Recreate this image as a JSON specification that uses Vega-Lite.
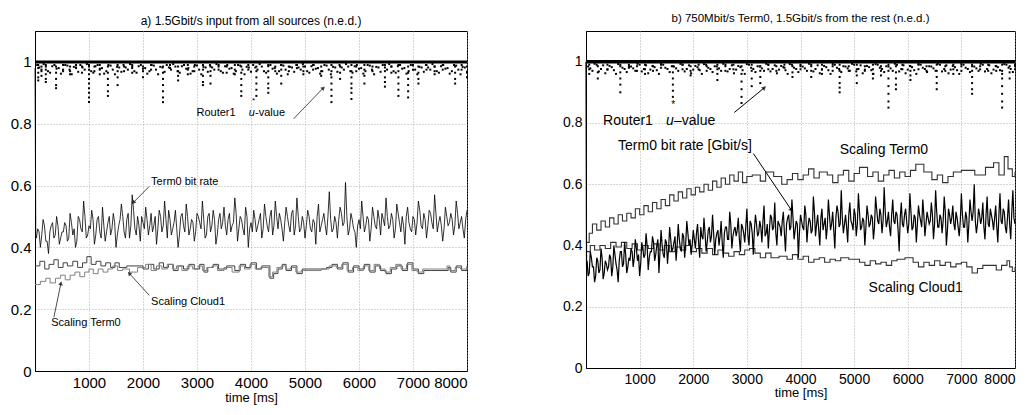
{
"$schema":"https://vega.github.io/schema/vega-lite/v6.json",
"padding":{"left":4,"top":12,"right":5,"bottom":5},
"bounds":"flush",
"spacing":119,
"config":{
 "font":"Liberation Sans",
 "view":{"stroke":"black","strokeWidth":1},
 "axis":{"labelFont":"Liberation Sans","labelColor":"black","labelFontSize":15,"titleFont":"Liberation Sans","titleFontWeight":"normal","titleColor":"black","titleFontSize":13,"domainColor":"black","ticks":false,"grid":true,"gridColor":"#999","gridDash":[1,2],"gridWidth":0.8,"labelPadding":4},
 "title":{"font":"Liberation Sans","fontWeight":"normal","color":"black"}
},
"datasets":{
"aT0":[{"t":0,"v":0.98},{"t":15,"v":0.44},{"t":50,"v":0.46},{"t":100,"v":0.40},{"t":150,"v":0.49},{"t":200,"v":0.42},{"t":250,"v":0.38},{"t":300,"v":0.47},{"t":350,"v":0.43},{"t":400,"v":0.50},{"t":450,"v":0.41},{"t":500,"v":0.45},
{"t":550,"v":0.48},{"t":600,"v":0.42},{"t":650,"v":0.51},{"t":700,"v":0.44},{"t":750,"v":0.40},{"t":800,"v":0.50},{"t":850,"v":0.46},{"t":900,"v":0.55},{"t":950,"v":0.43},{"t":1000,"v":0.47},
{"t":1050,"v":0.52},{"t":1100,"v":0.41},{"t":1150,"v":0.49},{"t":1200,"v":0.45},{"t":1250,"v":0.53},{"t":1300,"v":0.42},{"t":1350,"v":0.48},{"t":1400,"v":0.44},{"t":1450,"v":0.51},{"t":1500,"v":0.40},
{"t":1550,"v":0.47},{"t":1600,"v":0.54},{"t":1650,"v":0.45},{"t":1700,"v":0.49},{"t":1750,"v":0.43},{"t":1800,"v":0.57},{"t":1850,"v":0.46},{"t":1900,"v":0.50},{"t":1950,"v":0.42},{"t":2000,"v":0.48},
{"t":2050,"v":0.53},{"t":2100,"v":0.44},{"t":2150,"v":0.51},{"t":2200,"v":0.47},{"t":2250,"v":0.41},{"t":2300,"v":0.52},{"t":2350,"v":0.45},{"t":2400,"v":0.55},{"t":2450,"v":0.43},{"t":2500,"v":0.49},
{"t":2550,"v":0.46},{"t":2600,"v":0.52},{"t":2650,"v":0.40},{"t":2700,"v":0.50},{"t":2750,"v":0.47},{"t":2800,"v":0.54},{"t":2850,"v":0.44},{"t":2900,"v":0.49},{"t":2950,"v":0.42},{"t":3000,"v":0.51},
{"t":3050,"v":0.48},{"t":3100,"v":0.55},{"t":3150,"v":0.43},{"t":3200,"v":0.50},{"t":3250,"v":0.45},{"t":3300,"v":0.52},{"t":3350,"v":0.41},{"t":3400,"v":0.49},{"t":3450,"v":0.46},{"t":3500,"v":0.53},
{"t":3550,"v":0.44},{"t":3600,"v":0.51},{"t":3650,"v":0.47},{"t":3700,"v":0.56},{"t":3750,"v":0.42},{"t":3800,"v":0.50},{"t":3850,"v":0.46},{"t":3900,"v":0.53},{"t":3950,"v":0.40},{"t":4000,"v":0.48},
{"t":4050,"v":0.52},{"t":4100,"v":0.45},{"t":4150,"v":0.49},{"t":4200,"v":0.43},{"t":4250,"v":0.54},{"t":4300,"v":0.47},{"t":4350,"v":0.50},{"t":4400,"v":0.44},{"t":4450,"v":0.55},{"t":4500,"v":0.46},
{"t":4550,"v":0.49},{"t":4600,"v":0.42},{"t":4650,"v":0.53},{"t":4700,"v":0.47},{"t":4750,"v":0.51},{"t":4800,"v":0.44},{"t":4850,"v":0.56},{"t":4900,"v":0.45},{"t":4950,"v":0.50},{"t":5000,"v":0.43},
{"t":5050,"v":0.52},{"t":5100,"v":0.46},{"t":5150,"v":0.49},{"t":5200,"v":0.41},{"t":5250,"v":0.54},{"t":5300,"v":0.47},{"t":5350,"v":0.51},{"t":5400,"v":0.44},{"t":5450,"v":0.58},{"t":5500,"v":0.45},
{"t":5550,"v":0.50},{"t":5600,"v":0.43},{"t":5650,"v":0.53},{"t":5700,"v":0.47},{"t":5750,"v":0.61},{"t":5800,"v":0.44},{"t":5850,"v":0.51},{"t":5900,"v":0.46},{"t":5950,"v":0.40},{"t":6000,"v":0.49},
{"t":6050,"v":0.55},{"t":6100,"v":0.45},{"t":6150,"v":0.50},{"t":6200,"v":0.42},{"t":6250,"v":0.53},{"t":6300,"v":0.47},{"t":6350,"v":0.52},{"t":6400,"v":0.44},{"t":6450,"v":0.49},{"t":6500,"v":0.56},
{"t":6550,"v":0.46},{"t":6600,"v":0.51},{"t":6650,"v":0.43},{"t":6700,"v":0.54},{"t":6750,"v":0.48},{"t":6800,"v":0.50},{"t":6850,"v":0.41},{"t":6900,"v":0.53},{"t":6950,"v":0.46},{"t":7000,"v":0.50},
{"t":7050,"v":0.44},{"t":7100,"v":0.55},{"t":7150,"v":0.47},{"t":7200,"v":0.51},{"t":7250,"v":0.43},{"t":7300,"v":0.52},{"t":7350,"v":0.48},{"t":7400,"v":0.57},{"t":7450,"v":0.45},{"t":7500,"v":0.50},
{"t":7550,"v":0.42},{"t":7600,"v":0.53},{"t":7650,"v":0.47},{"t":7700,"v":0.51},{"t":7750,"v":0.44},{"t":7800,"v":0.55},{"t":7850,"v":0.46},{"t":7900,"v":0.50},{"t":7950,"v":0.43},{"t":8000,"v":0.52},
{"t":25,"v":0.43},{"t":75,"v":0.45},{"t":125,"v":0.44},{"t":175,"v":0.47},{"t":225,"v":0.42},{"t":275,"v":0.45},{"t":325,"v":0.48},{"t":375,"v":0.44},{"t":425,"v":0.47},{"t":475,"v":0.43},
{"t":525,"v":0.45},{"t":575,"v":0.47},{"t":625,"v":0.43},{"t":675,"v":0.48},{"t":725,"v":0.46},{"t":775,"v":0.42},{"t":825,"v":0.49},{"t":875,"v":0.45},{"t":925,"v":0.50},{"t":975,"v":0.44},
{"t":1025,"v":0.46},{"t":1075,"v":0.49},{"t":1125,"v":0.44},{"t":1175,"v":0.50},{"t":1225,"v":0.43},{"t":1275,"v":0.47},{"t":1325,"v":0.45},{"t":1375,"v":0.50},{"t":1425,"v":0.46},{"t":1475,"v":0.48},
{"t":1525,"v":0.44},{"t":1575,"v":0.49},{"t":1625,"v":0.50},{"t":1675,"v":0.43},{"t":1725,"v":0.51},{"t":1775,"v":0.47},{"t":1825,"v":0.52},{"t":1875,"v":0.44},{"t":1925,"v":0.47},{"t":1975,"v":0.50},
{"t":2025,"v":0.46},{"t":2075,"v":0.49},{"t":2125,"v":0.47},{"t":2175,"v":0.45},{"t":2225,"v":0.50},{"t":2275,"v":0.46},{"t":2325,"v":0.50},{"t":2375,"v":0.47},{"t":2425,"v":0.49},{"t":2475,"v":0.52},
{"t":2525,"v":0.44},{"t":2575,"v":0.48},{"t":2625,"v":0.46},{"t":2675,"v":0.44},{"t":2725,"v":0.51},{"t":2775,"v":0.45},{"t":2825,"v":0.50},{"t":2875,"v":0.46},{"t":2925,"v":0.48},{"t":2975,"v":0.45},
{"t":3025,"v":0.50},{"t":3075,"v":0.46},{"t":3125,"v":0.49},{"t":3175,"v":0.44},{"t":3225,"v":0.51},{"t":3275,"v":0.47},{"t":3325,"v":0.49},{"t":3375,"v":0.44},{"t":3425,"v":0.51},{"t":3475,"v":0.48},
{"t":3525,"v":0.47},{"t":3575,"v":0.49},{"t":3625,"v":0.45},{"t":3675,"v":0.48},{"t":3725,"v":0.51},{"t":3775,"v":0.46},{"t":3825,"v":0.49},{"t":3875,"v":0.44},{"t":3925,"v":0.50},{"t":3975,"v":0.46},
{"t":4025,"v":0.45},{"t":4075,"v":0.49},{"t":4125,"v":0.47},{"t":4175,"v":0.51},{"t":4225,"v":0.46},{"t":4275,"v":0.50},{"t":4325,"v":0.45},{"t":4375,"v":0.52},{"t":4425,"v":0.47},{"t":4475,"v":0.50},
{"t":4525,"v":0.51},{"t":4575,"v":0.46},{"t":4625,"v":0.48},{"t":4675,"v":0.50},{"t":4725,"v":0.45},{"t":4775,"v":0.52},{"t":4825,"v":0.47},{"t":4875,"v":0.50},{"t":4925,"v":0.46},{"t":4975,"v":0.48},
{"t":5025,"v":0.47},{"t":5075,"v":0.50},{"t":5125,"v":0.45},{"t":5175,"v":0.48},{"t":5225,"v":0.50},{"t":5275,"v":0.45},{"t":5325,"v":0.49},{"t":5375,"v":0.47},{"t":5425,"v":0.50},{"t":5475,"v":0.49},
{"t":5525,"v":0.46},{"t":5575,"v":0.48},{"t":5625,"v":0.49},{"t":5675,"v":0.51},{"t":5725,"v":0.48},{"t":5775,"v":0.50},{"t":5825,"v":0.46},{"t":5875,"v":0.49},{"t":5925,"v":0.45},{"t":5975,"v":0.47},
{"t":6025,"v":0.46},{"t":6075,"v":0.50},{"t":6125,"v":0.47},{"t":6175,"v":0.49},{"t":6225,"v":0.46},{"t":6275,"v":0.50},{"t":6325,"v":0.46},{"t":6375,"v":0.49},{"t":6425,"v":0.51},{"t":6475,"v":0.47},
{"t":6525,"v":0.50},{"t":6575,"v":0.47},{"t":6625,"v":0.49},{"t":6675,"v":0.46},{"t":6725,"v":0.51},{"t":6775,"v":0.45},{"t":6825,"v":0.47},{"t":6875,"v":0.50},{"t":6925,"v":0.48},{"t":6975,"v":0.45},
{"t":7025,"v":0.49},{"t":7075,"v":0.48},{"t":7125,"v":0.52},{"t":7175,"v":0.46},{"t":7225,"v":0.49},{"t":7275,"v":0.47},{"t":7325,"v":0.51},{"t":7375,"v":0.46},{"t":7425,"v":0.51},{"t":7475,"v":0.48},
{"t":7525,"v":0.47},{"t":7575,"v":0.46},{"t":7625,"v":0.50},{"t":7675,"v":0.48},{"t":7725,"v":0.49},{"t":7775,"v":0.47},{"t":7825,"v":0.51},{"t":7875,"v":0.48},{"t":7925,"v":0.46},{"t":7975,"v":0.49}],
"aSC":[{"t":0,"v":0.34},{"t":90,"v":0.355},{"t":180,"v":0.33},{"t":260,"v":0.345},{"t":350,"v":0.36},{"t":430,"v":0.335},{"t":520,"v":0.35},{"t":600,"v":0.34},{"t":700,"v":0.355},{"t":790,"v":0.335},{"t":880,"v":0.35},{"t":960,"v":0.37},{"t":1040,"v":0.345},{"t":1130,"v":0.355},{"t":1220,"v":0.34},{"t":1310,"v":0.35},{"t":1400,"v":0.335},{"t":1480,"v":0.35},{"t":1560,"v":0.335},{"t":1700,"v":0.34},{"t":2000,"v":0.33},{"t":2100,"v":0.345},{"t":2200,"v":0.33},{"t":2300,"v":0.35},{"t":2380,"v":0.335},{"t":2470,"v":0.345},{"t":2560,"v":0.325},{"t":2650,"v":0.34},{"t":2750,"v":0.33},{"t":2850,"v":0.345},{"t":2950,"v":0.33},{"t":3050,"v":0.345},{"t":3130,"v":0.32},{"t":3200,"v":0.335},{"t":3300,"v":0.345},{"t":3400,"v":0.33},{"t":3550,"v":0.34},{"t":3700,"v":0.325},{"t":3800,"v":0.345},{"t":3900,"v":0.335},{"t":4000,"v":0.35},{"t":4100,"v":0.33},{"t":4200,"v":0.34},{"t":4350,"v":0.30},{"t":4420,"v":0.315},{"t":4500,"v":0.33},{"t":4580,"v":0.345},{"t":4650,"v":0.325},{"t":4750,"v":0.34},{"t":4850,"v":0.315},{"t":4950,"v":0.33},{"t":5400,"v":0.335},{"t":5500,"v":0.345},{"t":5600,"v":0.33},{"t":5700,"v":0.35},{"t":5800,"v":0.32},{"t":5900,"v":0.34},{"t":6000,"v":0.33},{"t":6100,"v":0.345},{"t":6200,"v":0.32},{"t":6300,"v":0.34},{"t":6400,"v":0.325},{"t":6500,"v":0.315},{"t":6600,"v":0.33},{"t":6700,"v":0.34},{"t":6800,"v":0.325},{"t":6900,"v":0.35},{"t":7000,"v":0.33},{"t":7100,"v":0.315},{"t":7200,"v":0.325},{"t":7350,"v":0.325},{"t":7650,"v":0.335},{"t":7700,"v":0.32},{"t":7800,"v":0.34},{"t":7900,"v":0.325},{"t":8000,"v":0.34}],
"aST":[{"t":0,"v":0.28},{"t":100,"v":0.29},{"t":200,"v":0.30},{"t":280,"v":0.285},{"t":380,"v":0.30},{"t":470,"v":0.31},{"t":560,"v":0.295},{"t":650,"v":0.31},{"t":740,"v":0.32},{"t":830,"v":0.305},{"t":920,"v":0.32},{"t":1000,"v":0.33},{"t":1080,"v":0.315},{"t":1170,"v":0.33},{"t":1260,"v":0.32},{"t":1350,"v":0.33},{"t":1440,"v":0.34},{"t":1530,"v":0.325},{"t":1620,"v":0.33},{"t":1750,"v":0.32},{"t":1900,"v":0.335},{"t":2050,"v":0.345},{"t":2150,"v":0.325},{"t":2250,"v":0.34},{"t":2350,"v":0.33},{"t":2450,"v":0.345},{"t":2550,"v":0.33},{"t":2620,"v":0.34},{"t":2720,"v":0.325},{"t":2820,"v":0.34},{"t":2920,"v":0.33},{"t":3020,"v":0.34},{"t":3100,"v":0.325},{"t":3180,"v":0.335},{"t":3280,"v":0.34},{"t":3380,"v":0.325},{"t":3500,"v":0.335},{"t":3650,"v":0.32},{"t":3780,"v":0.34},{"t":3880,"v":0.33},{"t":3980,"v":0.345},{"t":4080,"v":0.33},{"t":4180,"v":0.335},{"t":4330,"v":0.305},{"t":4400,"v":0.32},{"t":4480,"v":0.335},{"t":4560,"v":0.34},{"t":4640,"v":0.33},{"t":4730,"v":0.335},{"t":4830,"v":0.32},{"t":4930,"v":0.325},{"t":5300,"v":0.33},{"t":5450,"v":0.34},{"t":5580,"v":0.335},{"t":5680,"v":0.345},{"t":5780,"v":0.325},{"t":5880,"v":0.335},{"t":5980,"v":0.325},{"t":6080,"v":0.34},{"t":6180,"v":0.325},{"t":6280,"v":0.345},{"t":6380,"v":0.33},{"t":6480,"v":0.32},{"t":6580,"v":0.335},{"t":6680,"v":0.345},{"t":6780,"v":0.33},{"t":6880,"v":0.345},{"t":6980,"v":0.325},{"t":7080,"v":0.32},{"t":7180,"v":0.33},{"t":7330,"v":0.33},{"t":7630,"v":0.34},{"t":7680,"v":0.325},{"t":7780,"v":0.335},{"t":7880,"v":0.33},{"t":8000,"v":0.335}],
"band":[{"t":0,"v":1},{"t":8000,"v":1}],
"aU":[{"t":60,"v":0.99},{"t":60,"v":0.98},{"t":60,"v":0.965},{"t":60,"v":0.95},{"t":60,"v":0.94},{"t":120,"v":0.985},{"t":120,"v":0.97},{"t":120,"v":0.955},{"t":200,"v":0.99},{"t":200,"v":0.975},{"t":200,"v":0.96},{"t":200,"v":0.945},{"t":200,"v":0.935},{"t":390,"v":0.985},{"t":390,"v":0.965},{"t":390,"v":0.945},{"t":390,"v":0.925},{"t":390,"v":0.915},{"t":520,"v":0.99},{"t":520,"v":0.975},{"t":650,"v":0.985},{"t":650,"v":0.97},{"t":650,"v":0.96},{"t":760,"v":0.99},{"t":760,"v":0.98},{"t":870,"v":0.985},{"t":870,"v":0.965},{"t":1000,"v":0.99},{"t":1000,"v":0.975},{"t":1000,"v":0.96},{"t":1000,"v":0.945},{"t":1000,"v":0.93},{"t":1000,"v":0.915},{"t":1000,"v":0.9},{"t":1000,"v":0.885},{"t":1000,"v":0.87},{"t":1100,"v":0.985},{"t":1100,"v":0.97},{"t":1200,"v":0.99},{"t":1200,"v":0.975},{"t":1200,"v":0.96},{"t":1350,"v":0.985},{"t":1350,"v":0.965},{"t":1350,"v":0.945},{"t":1350,"v":0.925},{"t":1350,"v":0.905},{"t":1350,"v":0.89},{"t":1530,"v":0.99},{"t":1530,"v":0.97},{"t":1530,"v":0.95},{"t":1530,"v":0.925},{"t":1650,"v":0.985},{"t":1650,"v":0.97},{"t":1800,"v":0.99},{"t":1800,"v":0.98},{"t":1800,"v":0.965},{"t":2000,"v":0.985},{"t":2000,"v":0.97},{"t":2000,"v":0.95},{"t":2150,"v":0.99},{"t":2150,"v":0.975},{"t":2370,"v":0.985},{"t":2370,"v":0.965},{"t":2370,"v":0.945},{"t":2370,"v":0.925},{"t":2370,"v":0.905},{"t":2370,"v":0.885},{"t":2370,"v":0.87},{"t":2500,"v":0.99},{"t":2500,"v":0.98},{"t":2650,"v":0.985},{"t":2650,"v":0.97},{"t":2650,"v":0.955},{"t":2650,"v":0.94},{"t":2830,"v":0.99},{"t":2830,"v":0.975},{"t":2830,"v":0.96},{"t":2950,"v":0.985},{"t":2950,"v":0.97},{"t":3110,"v":0.99},{"t":3110,"v":0.975},{"t":3110,"v":0.955},{"t":3110,"v":0.935},{"t":3110,"v":0.925},{"t":3250,"v":0.985},{"t":3250,"v":0.97},{"t":3250,"v":0.955},{"t":3250,"v":0.93},{"t":3400,"v":0.99},{"t":3400,"v":0.975},{"t":3550,"v":0.985},{"t":3550,"v":0.965},{"t":3700,"v":0.99},{"t":3700,"v":0.975},{"t":3700,"v":0.96},{"t":3820,"v":0.985},{"t":3820,"v":0.965},{"t":3820,"v":0.945},{"t":3820,"v":0.925},{"t":3820,"v":0.905},{"t":3820,"v":0.89},{"t":3950,"v":0.99},{"t":3950,"v":0.975},{"t":4100,"v":0.985},{"t":4100,"v":0.97},{"t":4100,"v":0.95},{"t":4100,"v":0.93},{"t":4100,"v":0.91},{"t":4100,"v":0.89},{"t":4320,"v":0.99},{"t":4320,"v":0.97},{"t":4320,"v":0.95},{"t":4320,"v":0.93},{"t":4320,"v":0.915},{"t":4320,"v":0.9},{"t":4450,"v":0.985},{"t":4450,"v":0.97},{"t":4560,"v":0.99},{"t":4560,"v":0.975},{"t":4560,"v":0.955},{"t":4560,"v":0.93},{"t":4700,"v":0.985},{"t":4700,"v":0.97},{"t":4850,"v":0.99},{"t":4850,"v":0.98},{"t":4970,"v":0.985},{"t":4970,"v":0.97},{"t":4970,"v":0.96},{"t":5150,"v":0.99},{"t":5150,"v":0.975},{"t":5300,"v":0.985},{"t":5300,"v":0.97},{"t":5300,"v":0.955},{"t":5490,"v":0.99},{"t":5490,"v":0.97},{"t":5490,"v":0.95},{"t":5490,"v":0.93},{"t":5490,"v":0.91},{"t":5490,"v":0.89},{"t":5490,"v":0.87},{"t":5650,"v":0.985},{"t":5650,"v":0.965},{"t":5650,"v":0.945},{"t":5860,"v":0.99},{"t":5860,"v":0.97},{"t":5860,"v":0.95},{"t":5860,"v":0.93},{"t":5860,"v":0.915},{"t":5860,"v":0.9},{"t":5860,"v":0.88},{"t":5950,"v":0.985},{"t":5950,"v":0.97},{"t":6100,"v":0.99},{"t":6100,"v":0.975},{"t":6100,"v":0.955},{"t":6100,"v":0.93},{"t":6250,"v":0.985},{"t":6250,"v":0.97},{"t":6480,"v":0.99},{"t":6480,"v":0.97},{"t":6480,"v":0.95},{"t":6480,"v":0.935},{"t":6480,"v":0.92},{"t":6600,"v":0.985},{"t":6600,"v":0.965},{"t":6730,"v":0.99},{"t":6730,"v":0.97},{"t":6730,"v":0.95},{"t":6730,"v":0.93},{"t":6730,"v":0.91},{"t":6730,"v":0.89},{"t":6910,"v":0.985},{"t":6910,"v":0.965},{"t":6910,"v":0.945},{"t":6910,"v":0.925},{"t":6910,"v":0.905},{"t":6910,"v":0.885},{"t":7000,"v":0.99},{"t":7000,"v":0.975},{"t":7100,"v":0.985},{"t":7100,"v":0.965},{"t":7100,"v":0.945},{"t":7100,"v":0.93},{"t":7250,"v":0.99},{"t":7250,"v":0.975},{"t":7400,"v":0.985},{"t":7400,"v":0.97},{"t":7400,"v":0.96},{"t":7550,"v":0.99},{"t":7550,"v":0.975},{"t":7780,"v":0.985},{"t":7780,"v":0.965},{"t":7780,"v":0.945},{"t":7780,"v":0.93},{"t":7900,"v":0.99},{"t":7900,"v":0.975},{"t":8000,"v":0.985},{"t":8000,"v":0.965},{"t":8000,"v":0.95},
{"t":40,"v":0.99},{"t":120,"v":0.975},{"t":200,"v":0.985},{"t":280,"v":0.965},{"t":360,"v":0.99},{"t":440,"v":0.98},{"t":520,"v":0.97},{"t":600,"v":0.988},{"t":680,"v":0.96},{"t":760,"v":0.982},
{"t":840,"v":0.99},{"t":920,"v":0.975},{"t":1000,"v":0.985},{"t":1080,"v":0.965},{"t":1160,"v":0.99},{"t":1240,"v":0.98},{"t":1320,"v":0.97},{"t":1400,"v":0.988},{"t":1480,"v":0.96},{"t":1560,"v":0.982},
{"t":1640,"v":0.99},{"t":1720,"v":0.975},{"t":1800,"v":0.985},{"t":1880,"v":0.965},{"t":1960,"v":0.99},{"t":2040,"v":0.98},{"t":2120,"v":0.97},{"t":2200,"v":0.988},{"t":2280,"v":0.96},{"t":2360,"v":0.982},
{"t":2440,"v":0.99},{"t":2520,"v":0.975},{"t":2600,"v":0.985},{"t":2680,"v":0.965},{"t":2760,"v":0.99},{"t":2840,"v":0.98},{"t":2920,"v":0.97},{"t":3000,"v":0.988},{"t":3080,"v":0.96},{"t":3160,"v":0.982},
{"t":3240,"v":0.99},{"t":3320,"v":0.975},{"t":3400,"v":0.985},{"t":3480,"v":0.965},{"t":3560,"v":0.99},{"t":3640,"v":0.98},{"t":3720,"v":0.97},{"t":3800,"v":0.988},{"t":3880,"v":0.96},{"t":3960,"v":0.982},
{"t":4040,"v":0.99},{"t":4120,"v":0.975},{"t":4200,"v":0.985},{"t":4280,"v":0.965},{"t":4360,"v":0.99},{"t":4440,"v":0.98},{"t":4520,"v":0.97},{"t":4600,"v":0.988},{"t":4680,"v":0.96},{"t":4760,"v":0.982},
{"t":4840,"v":0.99},{"t":4920,"v":0.975},{"t":5000,"v":0.985},{"t":5080,"v":0.965},{"t":5160,"v":0.99},{"t":5240,"v":0.98},{"t":5320,"v":0.97},{"t":5400,"v":0.988},{"t":5480,"v":0.96},{"t":5560,"v":0.982},
{"t":5640,"v":0.99},{"t":5720,"v":0.975},{"t":5800,"v":0.985},{"t":5880,"v":0.965},{"t":5960,"v":0.99},{"t":6040,"v":0.98},{"t":6120,"v":0.97},{"t":6200,"v":0.988},{"t":6280,"v":0.96},{"t":6360,"v":0.982},
{"t":6440,"v":0.99},{"t":6520,"v":0.975},{"t":6600,"v":0.985},{"t":6680,"v":0.965},{"t":6760,"v":0.99},{"t":6840,"v":0.98},{"t":6920,"v":0.97},{"t":7000,"v":0.988},{"t":7080,"v":0.96},{"t":7160,"v":0.982},
{"t":7240,"v":0.99},{"t":7320,"v":0.975},{"t":7400,"v":0.985},{"t":7480,"v":0.965},{"t":7560,"v":0.99},{"t":7640,"v":0.98},{"t":7720,"v":0.97},{"t":7800,"v":0.988},{"t":7880,"v":0.96},{"t":7960,"v":0.982},
{"t":80,"v":0.982},{"t":160,"v":0.993},{"t":240,"v":0.97},{"t":320,"v":0.986},{"t":400,"v":0.978},{"t":480,"v":0.962},{"t":560,"v":0.99},{"t":640,"v":0.975},{"t":720,"v":0.984},{"t":800,"v":0.968},
{"t":880,"v":0.982},{"t":960,"v":0.993},{"t":1040,"v":0.97},{"t":1120,"v":0.986},{"t":1200,"v":0.978},{"t":1280,"v":0.962},{"t":1360,"v":0.99},{"t":1440,"v":0.975},{"t":1520,"v":0.984},{"t":1600,"v":0.968},
{"t":1680,"v":0.982},{"t":1760,"v":0.993},{"t":1840,"v":0.97},{"t":1920,"v":0.986},{"t":2000,"v":0.978},{"t":2080,"v":0.962},{"t":2160,"v":0.99},{"t":2240,"v":0.975},{"t":2320,"v":0.984},{"t":2400,"v":0.968},
{"t":2480,"v":0.982},{"t":2560,"v":0.993},{"t":2640,"v":0.97},{"t":2720,"v":0.986},{"t":2800,"v":0.978},{"t":2880,"v":0.962},{"t":2960,"v":0.99},{"t":3040,"v":0.975},{"t":3120,"v":0.984},{"t":3200,"v":0.968},
{"t":3280,"v":0.982},{"t":3360,"v":0.993},{"t":3440,"v":0.97},{"t":3520,"v":0.986},{"t":3600,"v":0.978},{"t":3680,"v":0.962},{"t":3760,"v":0.99},{"t":3840,"v":0.975},{"t":3920,"v":0.984},{"t":4000,"v":0.968},
{"t":4080,"v":0.982},{"t":4160,"v":0.993},{"t":4240,"v":0.97},{"t":4320,"v":0.986},{"t":4400,"v":0.978},{"t":4480,"v":0.962},{"t":4560,"v":0.99},{"t":4640,"v":0.975},{"t":4720,"v":0.984},{"t":4800,"v":0.968},
{"t":4880,"v":0.982},{"t":4960,"v":0.993},{"t":5040,"v":0.97},{"t":5120,"v":0.986},{"t":5200,"v":0.978},{"t":5280,"v":0.962},{"t":5360,"v":0.99},{"t":5440,"v":0.975},{"t":5520,"v":0.984},{"t":5600,"v":0.968},
{"t":5680,"v":0.982},{"t":5760,"v":0.993},{"t":5840,"v":0.97},{"t":5920,"v":0.986},{"t":6000,"v":0.978},{"t":6080,"v":0.962},{"t":6160,"v":0.99},{"t":6240,"v":0.975},{"t":6320,"v":0.984},{"t":6400,"v":0.968},
{"t":6480,"v":0.982},{"t":6560,"v":0.993},{"t":6640,"v":0.97},{"t":6720,"v":0.986},{"t":6800,"v":0.978},{"t":6880,"v":0.962},{"t":6960,"v":0.99},{"t":7040,"v":0.975},{"t":7120,"v":0.984},{"t":7200,"v":0.968},
{"t":7280,"v":0.982},{"t":7360,"v":0.993},{"t":7440,"v":0.97},{"t":7520,"v":0.986},{"t":7600,"v":0.978},{"t":7680,"v":0.962},{"t":7760,"v":0.99},{"t":7840,"v":0.975},{"t":7920,"v":0.984},{"t":8000,"v":0.968}],
"aLbl":[{"t":2990,"v":0.835,"label":"Router1"},{"t":4075,"v":0.835,"label":"-value"},{"t":2150,"v":0.612,"label":"Term0 bit rate"},{"t":2150,"v":0.223,"label":"Scaling Cloud1"},{"t":300,"v":0.155,"label":"Scaling Term0"}],
"aUl":[{"t":3960,"v":0.835,"label":"u"}],
"aStar":[{"t":4020,"v":0.872,"label":"*"}],
"aArr":[{"id":1,"t":4790,"v":0.816,"t2":5340,"v2":0.916},{"id":2,"t":2115,"v":0.597,"t2":1820,"v2":0.545},{"id":3,"t":2115,"v":0.245,"t2":1745,"v2":0.316},{"id":4,"t":350,"v":0.174,"t2":480,"v2":0.284}],
"bT0":[{"t":0,"v":1.0},{"t":10,"v":0.33},{"t":40,"v":0.30},{"t":80,"v":0.38},{"t":120,"v":0.33},{"t":160,"v":0.28},{"t":200,"v":0.36},{"t":240,"v":0.31},{"t":280,"v":0.39},{"t":320,"v":0.29},{"t":360,"v":0.35},{"t":400,"v":0.32},
{"t":440,"v":0.37},{"t":480,"v":0.30},{"t":520,"v":0.40},{"t":560,"v":0.34},{"t":600,"v":0.28},{"t":640,"v":0.38},{"t":680,"v":0.33},{"t":720,"v":0.41},{"t":760,"v":0.31},{"t":800,"v":0.36},
{"t":840,"v":0.39},{"t":880,"v":0.33},{"t":920,"v":0.42},{"t":960,"v":0.35},{"t":1000,"v":0.30},{"t":1040,"v":0.41},{"t":1080,"v":0.36},{"t":1120,"v":0.44},{"t":1160,"v":0.32},{"t":1200,"v":0.38},
{"t":1240,"v":0.43},{"t":1280,"v":0.35},{"t":1320,"v":0.40},{"t":1360,"v":0.31},{"t":1400,"v":0.45},{"t":1440,"v":0.37},{"t":1480,"v":0.42},{"t":1520,"v":0.34},{"t":1560,"v":0.46},{"t":1600,"v":0.38},
{"t":1640,"v":0.41},{"t":1680,"v":0.35},{"t":1720,"v":0.47},{"t":1760,"v":0.39},{"t":1800,"v":0.44},{"t":1840,"v":0.36},{"t":1880,"v":0.48},{"t":1920,"v":0.40},{"t":1960,"v":0.37},{"t":2000,"v":0.45},
{"t":2040,"v":0.39},{"t":2080,"v":0.47},{"t":2120,"v":0.36},{"t":2160,"v":0.43},{"t":2200,"v":0.49},{"t":2240,"v":0.38},{"t":2280,"v":0.45},{"t":2320,"v":0.41},{"t":2360,"v":0.50},{"t":2400,"v":0.37},
{"t":2440,"v":0.44},{"t":2480,"v":0.40},{"t":2520,"v":0.48},{"t":2560,"v":0.36},{"t":2600,"v":0.46},{"t":2640,"v":0.42},{"t":2680,"v":0.51},{"t":2720,"v":0.39},{"t":2760,"v":0.45},{"t":2800,"v":0.43},
{"t":2840,"v":0.49},{"t":2880,"v":0.38},{"t":2920,"v":0.46},{"t":2960,"v":0.41},{"t":3000,"v":0.52},{"t":3040,"v":0.40},{"t":3080,"v":0.47},{"t":3120,"v":0.37},{"t":3160,"v":0.50},{"t":3200,"v":0.43},
{"t":3240,"v":0.48},{"t":3280,"v":0.41},{"t":3320,"v":0.53},{"t":3360,"v":0.44},{"t":3400,"v":0.39},{"t":3440,"v":0.50},{"t":3480,"v":0.45},{"t":3520,"v":0.54},{"t":3560,"v":0.40},{"t":3600,"v":0.47},
{"t":3640,"v":0.43},{"t":3680,"v":0.51},{"t":3720,"v":0.38},{"t":3760,"v":0.49},{"t":3800,"v":0.45},{"t":3840,"v":0.55},{"t":3880,"v":0.42},{"t":3920,"v":0.48},{"t":3960,"v":0.36},{"t":4000,"v":0.50},
{"t":4040,"v":0.46},{"t":4080,"v":0.53},{"t":4120,"v":0.41},{"t":4160,"v":0.49},{"t":4200,"v":0.44},{"t":4240,"v":0.56},{"t":4280,"v":0.43},{"t":4320,"v":0.50},{"t":4360,"v":0.40},{"t":4400,"v":0.52},
{"t":4440,"v":0.47},{"t":4480,"v":0.42},{"t":4520,"v":0.55},{"t":4560,"v":0.45},{"t":4600,"v":0.51},{"t":4640,"v":0.39},{"t":4680,"v":0.53},{"t":4720,"v":0.46},{"t":4760,"v":0.58},{"t":4800,"v":0.44},
{"t":4840,"v":0.50},{"t":4880,"v":0.41},{"t":4920,"v":0.54},{"t":4960,"v":0.47},{"t":5000,"v":0.52},{"t":5040,"v":0.43},{"t":5080,"v":0.57},{"t":5120,"v":0.45},{"t":5160,"v":0.49},{"t":5200,"v":0.40},
{"t":5240,"v":0.53},{"t":5280,"v":0.46},{"t":5320,"v":0.50},{"t":5360,"v":0.42},{"t":5400,"v":0.56},{"t":5440,"v":0.48},{"t":5480,"v":0.52},{"t":5520,"v":0.44},{"t":5560,"v":0.59},{"t":5600,"v":0.46},
{"t":5640,"v":0.51},{"t":5680,"v":0.43},{"t":5720,"v":0.55},{"t":5760,"v":0.47},{"t":5800,"v":0.50},{"t":5840,"v":0.38},{"t":5880,"v":0.54},{"t":5920,"v":0.46},{"t":5960,"v":0.52},{"t":6000,"v":0.44},
{"t":6040,"v":0.57},{"t":6080,"v":0.45},{"t":6120,"v":0.50},{"t":6160,"v":0.41},{"t":6200,"v":0.53},{"t":6240,"v":0.48},{"t":6280,"v":0.55},{"t":6320,"v":0.43},{"t":6360,"v":0.51},{"t":6400,"v":0.47},
{"t":6440,"v":0.54},{"t":6480,"v":0.42},{"t":6520,"v":0.58},{"t":6560,"v":0.46},{"t":6600,"v":0.50},{"t":6640,"v":0.44},{"t":6680,"v":0.56},{"t":6720,"v":0.40},{"t":6760,"v":0.52},{"t":6800,"v":0.47},
{"t":6840,"v":0.53},{"t":6880,"v":0.45},{"t":6920,"v":0.49},{"t":6960,"v":0.43},{"t":7000,"v":0.57},{"t":7040,"v":0.46},{"t":7080,"v":0.51},{"t":7120,"v":0.41},{"t":7160,"v":0.55},{"t":7200,"v":0.48},
{"t":7240,"v":0.60},{"t":7280,"v":0.44},{"t":7320,"v":0.52},{"t":7360,"v":0.47},{"t":7400,"v":0.54},{"t":7440,"v":0.42},{"t":7480,"v":0.56},{"t":7520,"v":0.46},{"t":7560,"v":0.50},{"t":7600,"v":0.45},
{"t":7640,"v":0.53},{"t":7680,"v":0.41},{"t":7720,"v":0.57},{"t":7760,"v":0.47},{"t":7800,"v":0.51},{"t":7840,"v":0.44},{"t":7880,"v":0.55},{"t":7920,"v":0.42},{"t":7960,"v":0.58},{"t":8000,"v":0.47},
{"t":20,"v":0.35},{"t":60,"v":0.31},{"t":100,"v":0.36},{"t":140,"v":0.33},{"t":180,"v":0.30},{"t":220,"v":0.35},{"t":260,"v":0.32},{"t":300,"v":0.36},{"t":340,"v":0.31},{"t":380,"v":0.34},
{"t":420,"v":0.33},{"t":460,"v":0.36},{"t":500,"v":0.33},{"t":540,"v":0.37},{"t":580,"v":0.32},{"t":620,"v":0.35},{"t":660,"v":0.38},{"t":700,"v":0.34},{"t":740,"v":0.37},{"t":780,"v":0.33},
{"t":820,"v":0.35},{"t":860,"v":0.38},{"t":900,"v":0.36},{"t":940,"v":0.39},{"t":980,"v":0.37},{"t":1020,"v":0.34},{"t":1060,"v":0.39},{"t":1100,"v":0.37},{"t":1140,"v":0.40},{"t":1180,"v":0.36},
{"t":1220,"v":0.38},{"t":1260,"v":0.41},{"t":1300,"v":0.37},{"t":1340,"v":0.42},{"t":1380,"v":0.38},{"t":1420,"v":0.40},{"t":1460,"v":0.36},{"t":1500,"v":0.41},{"t":1540,"v":0.39},{"t":1580,"v":0.42},
{"t":1620,"v":0.39},{"t":1660,"v":0.43},{"t":1700,"v":0.40},{"t":1740,"v":0.42},{"t":1780,"v":0.38},{"t":1820,"v":0.43},{"t":1860,"v":0.41},{"t":1900,"v":0.44},{"t":1940,"v":0.42},{"t":1980,"v":0.40},
{"t":2020,"v":0.42},{"t":2060,"v":0.44},{"t":2100,"v":0.41},{"t":2140,"v":0.46},{"t":2180,"v":0.42},{"t":2220,"v":0.44},{"t":2260,"v":0.41},{"t":2300,"v":0.46},{"t":2340,"v":0.43},{"t":2380,"v":0.44},
{"t":2420,"v":0.42},{"t":2460,"v":0.45},{"t":2500,"v":0.43},{"t":2540,"v":0.41},{"t":2580,"v":0.44},{"t":2620,"v":0.46},{"t":2660,"v":0.42},{"t":2700,"v":0.47},{"t":2740,"v":0.43},{"t":2780,"v":0.46},
{"t":2820,"v":0.45},{"t":2860,"v":0.42},{"t":2900,"v":0.47},{"t":2940,"v":0.44},{"t":2980,"v":0.46},{"t":3020,"v":0.43},{"t":3060,"v":0.48},{"t":3100,"v":0.44},{"t":3140,"v":0.45},{"t":3180,"v":0.47},
{"t":3220,"v":0.44},{"t":3260,"v":0.46},{"t":3300,"v":0.48},{"t":3340,"v":0.43},{"t":3380,"v":0.47},{"t":3420,"v":0.45},{"t":3460,"v":0.49},{"t":3500,"v":0.46},{"t":3540,"v":0.44},{"t":3580,"v":0.48},
{"t":3620,"v":0.46},{"t":3660,"v":0.48},{"t":3700,"v":0.44},{"t":3740,"v":0.47},{"t":3780,"v":0.50},{"t":3820,"v":0.46},{"t":3860,"v":0.49},{"t":3900,"v":0.45},{"t":3940,"v":0.47},{"t":3980,"v":0.44},
{"t":4020,"v":0.48},{"t":4060,"v":0.45},{"t":4100,"v":0.50},{"t":4140,"v":0.46},{"t":4180,"v":0.48},{"t":4220,"v":0.45},{"t":4260,"v":0.51},{"t":4300,"v":0.47},{"t":4340,"v":0.45},{"t":4380,"v":0.49},
{"t":4420,"v":0.45},{"t":4460,"v":0.49},{"t":4500,"v":0.46},{"t":4540,"v":0.50},{"t":4580,"v":0.47},{"t":4620,"v":0.45},{"t":4660,"v":0.49},{"t":4700,"v":0.51},{"t":4740,"v":0.47},{"t":4780,"v":0.49},
{"t":4820,"v":0.47},{"t":4860,"v":0.46},{"t":4900,"v":0.50},{"t":4940,"v":0.48},{"t":4980,"v":0.45},{"t":5020,"v":0.50},{"t":5060,"v":0.47},{"t":5100,"v":0.51},{"t":5140,"v":0.46},{"t":5180,"v":0.48},
{"t":5220,"v":0.46},{"t":5260,"v":0.50},{"t":5300,"v":0.47},{"t":5340,"v":0.49},{"t":5380,"v":0.46},{"t":5420,"v":0.52},{"t":5460,"v":0.47},{"t":5500,"v":0.50},{"t":5540,"v":0.48},{"t":5580,"v":0.51},
{"t":5620,"v":0.48},{"t":5660,"v":0.46},{"t":5700,"v":0.50},{"t":5740,"v":0.48},{"t":5780,"v":0.51},{"t":5820,"v":0.45},{"t":5860,"v":0.49},{"t":5900,"v":0.47},{"t":5940,"v":0.50},{"t":5980,"v":0.48},
{"t":6020,"v":0.47},{"t":6060,"v":0.51},{"t":6100,"v":0.46},{"t":6140,"v":0.49},{"t":6180,"v":0.47},{"t":6220,"v":0.50},{"t":6260,"v":0.46},{"t":6300,"v":0.50},{"t":6340,"v":0.47},{"t":6380,"v":0.49},
{"t":6420,"v":0.48},{"t":6460,"v":0.50},{"t":6500,"v":0.47},{"t":6540,"v":0.51},{"t":6580,"v":0.46},{"t":6620,"v":0.49},{"t":6660,"v":0.48},{"t":6700,"v":0.51},{"t":6740,"v":0.45},{"t":6780,"v":0.50},
{"t":6820,"v":0.49},{"t":6860,"v":0.47},{"t":6900,"v":0.51},{"t":6940,"v":0.46},{"t":6980,"v":0.48},{"t":7020,"v":0.50},{"t":7060,"v":0.46},{"t":7100,"v":0.49},{"t":7140,"v":0.47},{"t":7180,"v":0.51},
{"t":7220,"v":0.51},{"t":7260,"v":0.48},{"t":7300,"v":0.47},{"t":7340,"v":0.50},{"t":7380,"v":0.49},{"t":7420,"v":0.46},{"t":7460,"v":0.50},{"t":7500,"v":0.47},{"t":7540,"v":0.52},{"t":7580,"v":0.48},
{"t":7620,"v":0.49},{"t":7660,"v":0.46},{"t":7700,"v":0.50},{"t":7740,"v":0.48},{"t":7780,"v":0.52},{"t":7820,"v":0.46},{"t":7860,"v":0.49},{"t":7900,"v":0.47},{"t":7940,"v":0.51},{"t":7980,"v":0.49}],
"bST":[{"t":0,"v":0.41},{"t":60,"v":0.44},{"t":120,"v":0.47},{"t":200,"v":0.45},{"t":280,"v":0.48},{"t":360,"v":0.46},{"t":440,"v":0.49},{"t":520,"v":0.47},{"t":600,"v":0.50},{"t":680,"v":0.48},{"t":760,"v":0.505},{"t":840,"v":0.49},{"t":920,"v":0.52},{"t":1000,"v":0.50},{"t":1080,"v":0.53},{"t":1160,"v":0.51},{"t":1240,"v":0.54},{"t":1320,"v":0.52},{"t":1400,"v":0.55},{"t":1480,"v":0.53},{"t":1560,"v":0.565},{"t":1640,"v":0.545},{"t":1720,"v":0.575},{"t":1800,"v":0.555},{"t":1880,"v":0.585},{"t":1960,"v":0.565},{"t":2040,"v":0.59},{"t":2120,"v":0.575},{"t":2200,"v":0.60},{"t":2280,"v":0.58},{"t":2360,"v":0.61},{"t":2440,"v":0.59},{"t":2520,"v":0.62},{"t":2600,"v":0.60},{"t":2680,"v":0.63},{"t":2760,"v":0.61},{"t":2840,"v":0.64},{"t":2920,"v":0.605},{"t":3000,"v":0.625},{"t":3100,"v":0.63},{"t":3250,"v":0.61},{"t":3350,"v":0.64},{"t":3500,"v":0.625},{"t":3650,"v":0.60},{"t":3750,"v":0.615},{"t":3850,"v":0.635},{"t":3950,"v":0.615},{"t":4050,"v":0.63},{"t":4150,"v":0.65},{"t":4250,"v":0.62},{"t":4350,"v":0.64},{"t":4500,"v":0.63},{"t":4600,"v":0.605},{"t":4700,"v":0.63},{"t":4800,"v":0.645},{"t":4900,"v":0.61},{"t":5000,"v":0.635},{"t":5100,"v":0.655},{"t":5250,"v":0.625},{"t":5350,"v":0.64},{"t":5450,"v":0.61},{"t":5550,"v":0.63},{"t":5650,"v":0.645},{"t":5750,"v":0.62},{"t":5850,"v":0.64},{"t":5950,"v":0.625},{"t":6050,"v":0.645},{"t":6150,"v":0.665},{"t":6300,"v":0.64},{"t":6450,"v":0.615},{"t":6550,"v":0.63},{"t":6650,"v":0.605},{"t":6750,"v":0.625},{"t":6850,"v":0.64},{"t":7000,"v":0.645},{"t":7250,"v":0.63},{"t":7450,"v":0.655},{"t":7600,"v":0.67},{"t":7700,"v":0.63},{"t":7800,"v":0.69},{"t":7870,"v":0.65},{"t":7950,"v":0.625},{"t":8000,"v":0.64}],
"bSC":[{"t":0,"v":0.38},{"t":80,"v":0.40},{"t":160,"v":0.385},{"t":260,"v":0.40},{"t":360,"v":0.39},{"t":460,"v":0.41},{"t":560,"v":0.395},{"t":660,"v":0.41},{"t":760,"v":0.39},{"t":860,"v":0.405},{"t":960,"v":0.385},{"t":1060,"v":0.40},{"t":1160,"v":0.39},{"t":1260,"v":0.405},{"t":1360,"v":0.385},{"t":1460,"v":0.40},{"t":1560,"v":0.38},{"t":1660,"v":0.395},{"t":1760,"v":0.385},{"t":1860,"v":0.40},{"t":1960,"v":0.38},{"t":2060,"v":0.39},{"t":2160,"v":0.375},{"t":2260,"v":0.39},{"t":2360,"v":0.37},{"t":2460,"v":0.385},{"t":2560,"v":0.375},{"t":2660,"v":0.365},{"t":2760,"v":0.38},{"t":2860,"v":0.37},{"t":2960,"v":0.385},{"t":3050,"v":0.39},{"t":3150,"v":0.375},{"t":3250,"v":0.36},{"t":3350,"v":0.375},{"t":3450,"v":0.36},{"t":3600,"v":0.365},{"t":3750,"v":0.355},{"t":3850,"v":0.37},{"t":3950,"v":0.355},{"t":4050,"v":0.365},{"t":4150,"v":0.345},{"t":4250,"v":0.355},{"t":4350,"v":0.36},{"t":4450,"v":0.345},{"t":4550,"v":0.355},{"t":4650,"v":0.35},{"t":4750,"v":0.36},{"t":4900,"v":0.355},{"t":5100,"v":0.345},{"t":5200,"v":0.335},{"t":5300,"v":0.35},{"t":5400,"v":0.34},{"t":5500,"v":0.345},{"t":5600,"v":0.335},{"t":5700,"v":0.35},{"t":5800,"v":0.355},{"t":5950,"v":0.36},{"t":6100,"v":0.345},{"t":6200,"v":0.33},{"t":6300,"v":0.345},{"t":6400,"v":0.335},{"t":6500,"v":0.35},{"t":6600,"v":0.335},{"t":6700,"v":0.345},{"t":6800,"v":0.33},{"t":6900,"v":0.34},{"t":7000,"v":0.345},{"t":7100,"v":0.33},{"t":7200,"v":0.31},{"t":7300,"v":0.325},{"t":7400,"v":0.335},{"t":7500,"v":0.335},{"t":7650,"v":0.32},{"t":7750,"v":0.335},{"t":7850,"v":0.35},{"t":7900,"v":0.33},{"t":7950,"v":0.315},{"t":8000,"v":0.33}],
"bU":[{"t":60,"v":0.99},{"t":60,"v":0.975},{"t":60,"v":0.96},{"t":220,"v":0.985},{"t":220,"v":0.965},{"t":220,"v":0.945},{"t":400,"v":0.99},{"t":400,"v":0.975},{"t":640,"v":0.985},{"t":640,"v":0.965},{"t":640,"v":0.945},{"t":640,"v":0.925},{"t":640,"v":0.9},{"t":800,"v":0.99},{"t":800,"v":0.98},{"t":950,"v":0.985},{"t":950,"v":0.97},{"t":1100,"v":0.99},{"t":1100,"v":0.975},{"t":1100,"v":0.96},{"t":1250,"v":0.985},{"t":1250,"v":0.97},{"t":1400,"v":0.99},{"t":1400,"v":0.98},{"t":1620,"v":0.985},{"t":1620,"v":0.965},{"t":1620,"v":0.945},{"t":1620,"v":0.925},{"t":1620,"v":0.905},{"t":1620,"v":0.885},{"t":1800,"v":0.99},{"t":1800,"v":0.975},{"t":1950,"v":0.985},{"t":1950,"v":0.97},{"t":1950,"v":0.955},{"t":2100,"v":0.99},{"t":2100,"v":0.975},{"t":2250,"v":0.985},{"t":2250,"v":0.97},{"t":2450,"v":0.99},{"t":2450,"v":0.975},{"t":2450,"v":0.96},{"t":2450,"v":0.94},{"t":2600,"v":0.985},{"t":2600,"v":0.97},{"t":2750,"v":0.99},{"t":2750,"v":0.975},{"t":2900,"v":0.985},{"t":2900,"v":0.96},{"t":2900,"v":0.935},{"t":2900,"v":0.91},{"t":2900,"v":0.885},{"t":2900,"v":0.865},{"t":3090,"v":0.99},{"t":3090,"v":0.97},{"t":3090,"v":0.945},{"t":3090,"v":0.92},{"t":3250,"v":0.985},{"t":3250,"v":0.97},{"t":3250,"v":0.95},{"t":3250,"v":0.93},{"t":3400,"v":0.99},{"t":3400,"v":0.975},{"t":3550,"v":0.985},{"t":3550,"v":0.97},{"t":3700,"v":0.99},{"t":3700,"v":0.98},{"t":3850,"v":0.985},{"t":3850,"v":0.965},{"t":3850,"v":0.95},{"t":4000,"v":0.99},{"t":4000,"v":0.975},{"t":4200,"v":0.985},{"t":4200,"v":0.97},{"t":4200,"v":0.95},{"t":4400,"v":0.99},{"t":4400,"v":0.975},{"t":4400,"v":0.96},{"t":4600,"v":0.985},{"t":4600,"v":0.97},{"t":4730,"v":0.99},{"t":4730,"v":0.97},{"t":4730,"v":0.95},{"t":4730,"v":0.93},{"t":4730,"v":0.915},{"t":4730,"v":0.9},{"t":4900,"v":0.985},{"t":4900,"v":0.97},{"t":5050,"v":0.99},{"t":5050,"v":0.975},{"t":5050,"v":0.955},{"t":5050,"v":0.93},{"t":5200,"v":0.985},{"t":5200,"v":0.97},{"t":5350,"v":0.99},{"t":5350,"v":0.975},{"t":5350,"v":0.96},{"t":5350,"v":0.945},{"t":5500,"v":0.985},{"t":5500,"v":0.97},{"t":5500,"v":0.955},{"t":5640,"v":0.99},{"t":5640,"v":0.97},{"t":5640,"v":0.945},{"t":5640,"v":0.92},{"t":5640,"v":0.895},{"t":5640,"v":0.87},{"t":5640,"v":0.85},{"t":5780,"v":0.985},{"t":5780,"v":0.965},{"t":5780,"v":0.945},{"t":5780,"v":0.925},{"t":5780,"v":0.91},{"t":5900,"v":0.99},{"t":5900,"v":0.975},{"t":6050,"v":0.985},{"t":6050,"v":0.97},{"t":6050,"v":0.955},{"t":6050,"v":0.94},{"t":6200,"v":0.99},{"t":6200,"v":0.975},{"t":6350,"v":0.985},{"t":6350,"v":0.97},{"t":6540,"v":0.99},{"t":6540,"v":0.97},{"t":6540,"v":0.95},{"t":6540,"v":0.93},{"t":6540,"v":0.91},{"t":6700,"v":0.985},{"t":6700,"v":0.97},{"t":6850,"v":0.99},{"t":6850,"v":0.975},{"t":6850,"v":0.96},{"t":7000,"v":0.985},{"t":7000,"v":0.97},{"t":7200,"v":0.99},{"t":7200,"v":0.97},{"t":7200,"v":0.95},{"t":7200,"v":0.93},{"t":7200,"v":0.91},{"t":7200,"v":0.895},{"t":7350,"v":0.985},{"t":7350,"v":0.975},{"t":7500,"v":0.99},{"t":7500,"v":0.97},{"t":7650,"v":0.985},{"t":7650,"v":0.97},{"t":7760,"v":0.99},{"t":7760,"v":0.97},{"t":7760,"v":0.945},{"t":7760,"v":0.92},{"t":7760,"v":0.895},{"t":7760,"v":0.87},{"t":7760,"v":0.85},{"t":7900,"v":0.985},{"t":7900,"v":0.965},{"t":7900,"v":0.945},{"t":8000,"v":0.99},{"t":8000,"v":0.975},
{"t":40,"v":0.984},{"t":120,"v":0.97},{"t":200,"v":0.99},{"t":280,"v":0.976},{"t":360,"v":0.962},{"t":440,"v":0.986},{"t":520,"v":0.972},{"t":600,"v":0.992},{"t":680,"v":0.98},{"t":760,"v":0.966},
{"t":840,"v":0.984},{"t":920,"v":0.97},{"t":1000,"v":0.99},{"t":1080,"v":0.976},{"t":1160,"v":0.962},{"t":1240,"v":0.986},{"t":1320,"v":0.972},{"t":1400,"v":0.992},{"t":1480,"v":0.98},{"t":1560,"v":0.966},
{"t":1640,"v":0.984},{"t":1720,"v":0.97},{"t":1800,"v":0.99},{"t":1880,"v":0.976},{"t":1960,"v":0.962},{"t":2040,"v":0.986},{"t":2120,"v":0.972},{"t":2200,"v":0.992},{"t":2280,"v":0.98},{"t":2360,"v":0.966},
{"t":2440,"v":0.984},{"t":2520,"v":0.97},{"t":2600,"v":0.99},{"t":2680,"v":0.976},{"t":2760,"v":0.962},{"t":2840,"v":0.986},{"t":2920,"v":0.972},{"t":3000,"v":0.992},{"t":3080,"v":0.98},{"t":3160,"v":0.966},
{"t":3240,"v":0.984},{"t":3320,"v":0.97},{"t":3400,"v":0.99},{"t":3480,"v":0.976},{"t":3560,"v":0.962},{"t":3640,"v":0.986},{"t":3720,"v":0.972},{"t":3800,"v":0.992},{"t":3880,"v":0.98},{"t":3960,"v":0.966},
{"t":4040,"v":0.984},{"t":4120,"v":0.97},{"t":4200,"v":0.99},{"t":4280,"v":0.976},{"t":4360,"v":0.962},{"t":4440,"v":0.986},{"t":4520,"v":0.972},{"t":4600,"v":0.992},{"t":4680,"v":0.98},{"t":4760,"v":0.966},
{"t":4840,"v":0.984},{"t":4920,"v":0.97},{"t":5000,"v":0.99},{"t":5080,"v":0.976},{"t":5160,"v":0.962},{"t":5240,"v":0.986},{"t":5320,"v":0.972},{"t":5400,"v":0.992},{"t":5480,"v":0.98},{"t":5560,"v":0.966},
{"t":5640,"v":0.984},{"t":5720,"v":0.97},{"t":5800,"v":0.99},{"t":5880,"v":0.976},{"t":5960,"v":0.962},{"t":6040,"v":0.986},{"t":6120,"v":0.972},{"t":6200,"v":0.992},{"t":6280,"v":0.98},{"t":6360,"v":0.966},
{"t":6440,"v":0.984},{"t":6520,"v":0.97},{"t":6600,"v":0.99},{"t":6680,"v":0.976},{"t":6760,"v":0.962},{"t":6840,"v":0.986},{"t":6920,"v":0.972},{"t":7000,"v":0.992},{"t":7080,"v":0.98},{"t":7160,"v":0.966},
{"t":7240,"v":0.984},{"t":7320,"v":0.97},{"t":7400,"v":0.99},{"t":7480,"v":0.976},{"t":7560,"v":0.962},{"t":7640,"v":0.986},{"t":7720,"v":0.972},{"t":7800,"v":0.992},{"t":7880,"v":0.98},{"t":7960,"v":0.966},
{"t":80,"v":0.978},{"t":160,"v":0.993},{"t":240,"v":0.968},{"t":320,"v":0.988},{"t":400,"v":0.974},{"t":480,"v":0.982},{"t":560,"v":0.96},{"t":640,"v":0.99},{"t":720,"v":0.976},{"t":800,"v":0.985},
{"t":880,"v":0.978},{"t":960,"v":0.993},{"t":1040,"v":0.968},{"t":1120,"v":0.988},{"t":1200,"v":0.974},{"t":1280,"v":0.982},{"t":1360,"v":0.96},{"t":1440,"v":0.99},{"t":1520,"v":0.976},{"t":1600,"v":0.985},
{"t":1680,"v":0.978},{"t":1760,"v":0.993},{"t":1840,"v":0.968},{"t":1920,"v":0.988},{"t":2000,"v":0.974},{"t":2080,"v":0.982},{"t":2160,"v":0.96},{"t":2240,"v":0.99},{"t":2320,"v":0.976},{"t":2400,"v":0.985},
{"t":2480,"v":0.978},{"t":2560,"v":0.993},{"t":2640,"v":0.968},{"t":2720,"v":0.988},{"t":2800,"v":0.974},{"t":2880,"v":0.982},{"t":2960,"v":0.96},{"t":3040,"v":0.99},{"t":3120,"v":0.976},{"t":3200,"v":0.985},
{"t":3280,"v":0.978},{"t":3360,"v":0.993},{"t":3440,"v":0.968},{"t":3520,"v":0.988},{"t":3600,"v":0.974},{"t":3680,"v":0.982},{"t":3760,"v":0.96},{"t":3840,"v":0.99},{"t":3920,"v":0.976},{"t":4000,"v":0.985},
{"t":4080,"v":0.978},{"t":4160,"v":0.993},{"t":4240,"v":0.968},{"t":4320,"v":0.988},{"t":4400,"v":0.974},{"t":4480,"v":0.982},{"t":4560,"v":0.96},{"t":4640,"v":0.99},{"t":4720,"v":0.976},{"t":4800,"v":0.985},
{"t":4880,"v":0.978},{"t":4960,"v":0.993},{"t":5040,"v":0.968},{"t":5120,"v":0.988},{"t":5200,"v":0.974},{"t":5280,"v":0.982},{"t":5360,"v":0.96},{"t":5440,"v":0.99},{"t":5520,"v":0.976},{"t":5600,"v":0.985},
{"t":5680,"v":0.978},{"t":5760,"v":0.993},{"t":5840,"v":0.968},{"t":5920,"v":0.988},{"t":6000,"v":0.974},{"t":6080,"v":0.982},{"t":6160,"v":0.96},{"t":6240,"v":0.99},{"t":6320,"v":0.976},{"t":6400,"v":0.985},
{"t":6480,"v":0.978},{"t":6560,"v":0.993},{"t":6640,"v":0.968},{"t":6720,"v":0.988},{"t":6800,"v":0.974},{"t":6880,"v":0.982},{"t":6960,"v":0.96},{"t":7040,"v":0.99},{"t":7120,"v":0.976},{"t":7200,"v":0.985},
{"t":7280,"v":0.978},{"t":7360,"v":0.993},{"t":7440,"v":0.968},{"t":7520,"v":0.988},{"t":7600,"v":0.974},{"t":7680,"v":0.982},{"t":7760,"v":0.96},{"t":7840,"v":0.99},{"t":7920,"v":0.976},{"t":8000,"v":0.985}],
"bLbl":[{"t":318,"v":0.805,"label":"Router1"},{"t":1640,"v":0.805,"label":"–value"},{"t":598,"v":0.726,"label":"Term0 bit rate [Gbit/s]"},{"t":4730,"v":0.712,"label":"Scaling Term0"},{"t":5270,"v":0.26,"label":"Scaling Cloud1"}],
"bUl":[{"t":1490,"v":0.805,"label":"u"}],
"bStar":[{"t":1590,"v":0.857,"label":"*"}],
"bArr":[{"id":5,"t":2766,"v":0.834,"t2":3327,"v2":0.915},{"id":6,"t":3121,"v":0.700,"t2":3832,"v2":0.515}]
},
"hconcat":[
{
 "width":432,"height":340,
 "title":{"text":"a) 1.5Gbit/s input from all sources (n.e.d.)","fontSize":12,"offset":3},
 "encoding":{
  "x":{"field":"t","type":"quantitative","scale":{"domain":[0,8000],"nice":false},"axis":{"values":[1000,2000,3000,4000,5000,6000,7000,8000],"format":"d","title":"time [ms]","titlePadding":1}},
  "y":{"field":"v","type":"quantitative","scale":{"domain":[0,1.1],"nice":false},"axis":{"values":[0,0.2,0.4,0.6,0.8,1],"format":".1~f","title":null,"minExtent":30,"maxExtent":30}}
 },
 "layer":[
  {"data":{"name":"band"},"mark":{"type":"line","color":"black","strokeWidth":3}},
  {"data":{"name":"aU"},"mark":{"type":"square","size":4,"color":"black","opacity":1}},
  {"data":{"name":"aSC"},"mark":{"type":"line","interpolate":"step-after","color":"#444","strokeWidth":1}},
  {"data":{"name":"aST"},"mark":{"type":"line","interpolate":"step-after","color":"#808080","strokeWidth":1}},
  {"data":{"name":"aT0"},"mark":{"type":"line","color":"black","strokeWidth":0.8}},
  {"data":{"name":"aLbl"},"mark":{"type":"text","align":"left","baseline":"middle","fontSize":11,"color":"black"},"encoding":{"text":{"field":"label"}}},
  {"data":{"name":"aUl"},"mark":{"type":"text","align":"left","baseline":"middle","fontSize":11,"fontStyle":"italic","color":"black"},"encoding":{"text":{"field":"label"}}},
  {"data":{"name":"aStar"},"mark":{"type":"text","align":"left","baseline":"middle","fontSize":8,"color":"black"},"encoding":{"text":{"field":"label"}}},
  {"data":{"name":"aArr"},"mark":{"type":"rule","color":"black","strokeWidth":0.7},"encoding":{"x2":{"field":"t2"},"y2":{"field":"v2"}}},
  {"data":{"name":"aArr"},"transform":[{"filter":"datum.id==1"}],"mark":{"type":"point","shape":"triangle-up","filled":true,"size":22,"color":"black","angle":44},"encoding":{"x":{"field":"t2","type":"quantitative"},"y":{"field":"v2","type":"quantitative"}}},
  {"data":{"name":"aArr"},"transform":[{"filter":"datum.id==2"}],"mark":{"type":"point","shape":"triangle-up","filled":true,"size":22,"color":"black","angle":225},"encoding":{"x":{"field":"t2","type":"quantitative"},"y":{"field":"v2","type":"quantitative"}}},
  {"data":{"name":"aArr"},"transform":[{"filter":"datum.id==3"}],"mark":{"type":"point","shape":"triangle-up","filled":true,"size":22,"color":"black","angle":318},"encoding":{"x":{"field":"t2","type":"quantitative"},"y":{"field":"v2","type":"quantitative"}}},
  {"data":{"name":"aArr"},"transform":[{"filter":"datum.id==4"}],"mark":{"type":"point","shape":"triangle-up","filled":true,"size":22,"color":"black","angle":12},"encoding":{"x":{"field":"t2","type":"quantitative"},"y":{"field":"v2","type":"quantitative"}}}
 ]
},
{
 "width":429,"height":337,
 "title":{"text":"b) 750Mbit/s Term0, 1.5Gbit/s from the rest (n.e.d.)","fontSize":11.5,"offset":7},
 "encoding":{
  "x":{"field":"t","type":"quantitative","scale":{"domain":[0,8000],"nice":false},"axis":{"values":[1000,2000,3000,4000,5000,6000,7000,8000],"format":"d","title":"time [ms]","titlePadding":0,"labelFontSize":14}},
  "y":{"field":"v","type":"quantitative","scale":{"domain":[0,1.1],"nice":false},"axis":{"values":[0,0.2,0.4,0.6,0.8,1],"format":".1~f","title":null,"labelFontSize":14,"minExtent":30,"maxExtent":30}}
 },
 "layer":[
  {"data":{"name":"band"},"mark":{"type":"line","color":"black","strokeWidth":3.5}},
  {"data":{"name":"bU"},"mark":{"type":"square","size":4,"color":"black","opacity":1}},
  {"data":{"name":"bSC"},"mark":{"type":"line","interpolate":"step-after","color":"#333","strokeWidth":1.1}},
  {"data":{"name":"bST"},"mark":{"type":"line","interpolate":"step-after","color":"#333","strokeWidth":1.1}},
  {"data":{"name":"bT0"},"mark":{"type":"line","color":"black","strokeWidth":1.2}},
  {"data":{"name":"bLbl"},"mark":{"type":"text","align":"left","baseline":"middle","fontSize":14,"color":"black"},"encoding":{"text":{"field":"label"}}},
  {"data":{"name":"bUl"},"mark":{"type":"text","align":"left","baseline":"middle","fontSize":14,"fontStyle":"italic","color":"black"},"encoding":{"text":{"field":"label"}}},
  {"data":{"name":"bStar"},"mark":{"type":"text","align":"left","baseline":"middle","fontSize":10,"color":"black"},"encoding":{"text":{"field":"label"}}},
  {"data":{"name":"bArr"},"mark":{"type":"rule","color":"black","strokeWidth":1},"encoding":{"x2":{"field":"t2"},"y2":{"field":"v2"}}},
  {"data":{"name":"bArr"},"transform":[{"filter":"datum.id==5"}],"mark":{"type":"point","shape":"triangle-up","filled":true,"size":26,"color":"black","angle":50},"encoding":{"x":{"field":"t2","type":"quantitative"},"y":{"field":"v2","type":"quantitative"}}},
  {"data":{"name":"bArr"},"transform":[{"filter":"datum.id==6"}],"mark":{"type":"point","shape":"triangle-up","filled":true,"size":26,"color":"black","angle":146},"encoding":{"x":{"field":"t2","type":"quantitative"},"y":{"field":"v2","type":"quantitative"}}}
 ]
}
]
}
